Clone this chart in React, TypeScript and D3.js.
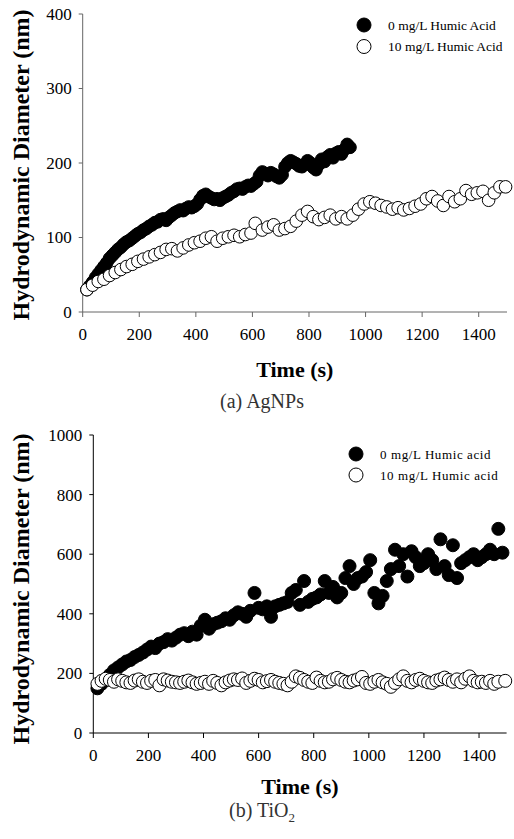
import React from "react";
import * as d3 from "d3";

// ---------- Data ----------
const xTicks = [0, 200, 400, 600, 800, 1000, 1200, 1400];
const yTicksA = [0, 100, 200, 300, 400];
const yTicksB = [0, 200, 400, 600, 800, 1000];

const legendA = ["0 mg/L Humic Acid", "10 mg/L Humic Acid"];
const legendB = ["0 mg/L Humic acid", "10 mg/L Humic acid"];

// (a) AgNPs, 0 mg/L humic acid  [time s, diameter nm]
const agFilled: [number, number][] = [
  [15, 30], [25, 35], [35, 40], [45, 46], [55, 51], [65, 56], [75, 61], [85, 66], [95, 72], [105, 76],
  [115, 80], [125, 84], [135, 87], [145, 91], [155, 94], [165, 96], [175, 99], [185, 102], [195, 105], [205, 107],
  [215, 110], [225, 112], [235, 115], [245, 117], [255, 120], [265, 121], [275, 124], [285, 125], [295, 123], [305, 127],
  [315, 130], [325, 133], [335, 135], [345, 137], [355, 136], [365, 139], [375, 141], [385, 140], [395, 142], [405, 145],
  [415, 151], [425, 156], [435, 158], [445, 155], [455, 153], [465, 151], [475, 152], [485, 150], [495, 153], [505, 155],
  [515, 157], [525, 160], [535, 162], [545, 165], [555, 166], [565, 165], [575, 168], [585, 170], [595, 169], [605, 172],
  [615, 175], [625, 183], [635, 188], [645, 186], [655, 183], [665, 187], [675, 185], [685, 182], [695, 180], [705, 184],
  [715, 195], [725, 200], [735, 203], [745, 201], [755, 199], [765, 196], [775, 195], [785, 198], [795, 203], [805, 200],
  [815, 194], [825, 191], [835, 198], [845, 205], [855, 202], [865, 208], [875, 211], [885, 207], [895, 213], [905, 215],
  [915, 212], [925, 218], [935, 225], [945, 221],
];

// (a) AgNPs, 10 mg/L humic acid
const agOpen: [number, number][] = [
  [15, 30], [35, 36], [55, 41], [75, 44], [95, 49], [115, 53], [135, 57], [155, 61], [175, 64], [195, 68],
  [215, 71], [235, 74], [255, 77], [275, 80], [295, 84], [315, 85], [335, 82], [355, 86], [375, 90], [395, 93],
  [415, 95], [435, 99], [455, 101], [475, 95], [495, 99], [515, 101], [535, 103], [555, 101], [575, 104], [595, 106],
  [610, 119], [635, 110], [655, 114], [675, 117], [695, 110], [715, 112], [735, 115], [755, 122], [775, 130], [795, 135],
  [815, 128], [835, 124], [855, 127], [875, 130], [895, 125], [915, 128], [935, 125], [955, 130], [975, 138], [995, 145],
  [1015, 148], [1035, 146], [1055, 143], [1075, 141], [1095, 138], [1115, 140], [1135, 137], [1155, 139], [1175, 142], [1195, 145],
  [1215, 152], [1235, 155], [1255, 149], [1275, 143], [1295, 155], [1315, 148], [1335, 152], [1355, 163], [1375, 158], [1395, 160],
  [1415, 162], [1435, 150], [1455, 160], [1475, 168], [1495, 168],
];

// (b) TiO2, 0 mg/L humic acid
const tiFilled: [number, number][] = [
  [15, 150], [30, 165], [45, 180], [60, 195], [75, 210], [90, 220], [105, 230], [120, 240], [135, 245], [150, 255],
  [165, 262], [180, 270], [195, 280], [210, 290], [225, 285], [240, 300], [255, 305], [270, 315], [285, 310], [300, 320],
  [315, 330], [330, 335], [345, 325], [360, 340], [375, 330], [390, 360], [405, 380], [420, 350], [435, 365], [450, 370],
  [465, 375], [480, 385], [495, 380], [510, 395], [525, 405], [540, 400], [555, 390], [570, 410], [585, 470], [600, 420],
  [615, 415], [630, 425], [645, 390], [660, 425], [675, 430], [690, 435], [705, 440], [720, 470], [735, 480], [750, 430],
  [765, 510], [780, 440], [795, 450], [810, 455], [825, 465], [840, 510], [855, 470], [870, 490], [885, 455], [900, 470],
  [915, 520], [930, 560], [945, 500], [960, 520], [975, 525], [990, 540], [1005, 580], [1020, 470], [1035, 435], [1050, 460],
  [1065, 510], [1080, 550], [1095, 615], [1110, 560], [1125, 600], [1140, 525], [1155, 610], [1170, 590], [1185, 560], [1200, 570],
  [1215, 600], [1230, 580], [1245, 550], [1260, 650], [1275, 560], [1290, 530], [1305, 630], [1320, 520], [1335, 570], [1350, 580],
  [1365, 590], [1380, 600], [1395, 580], [1410, 590], [1425, 600], [1440, 615], [1455, 600], [1470, 685], [1485, 605],
];

// (b) TiO2, 10 mg/L humic acid
const tiOpen: [number, number][] = [
  [15, 165], [30, 175], [45, 182], [60, 178], [75, 172], [90, 180], [105, 175], [120, 170], [135, 168], [150, 176],
  [165, 180], [180, 172], [195, 168], [210, 175], [225, 178], [240, 160], [255, 180], [270, 176], [285, 172], [300, 170],
  [315, 168], [330, 172], [345, 176], [360, 170], [375, 165], [390, 168], [405, 172], [420, 165], [435, 175], [450, 168],
  [465, 160], [480, 170], [495, 176], [510, 180], [525, 178], [540, 183], [555, 168], [570, 175], [585, 182], [600, 178],
  [615, 170], [630, 174], [645, 178], [660, 172], [675, 168], [690, 165], [705, 160], [720, 172], [735, 190], [750, 185],
  [765, 178], [780, 172], [795, 168], [810, 186], [825, 175], [840, 170], [855, 172], [870, 180], [885, 185], [900, 178],
  [915, 172], [930, 170], [945, 176], [960, 180], [975, 188], [990, 168], [1005, 165], [1020, 172], [1035, 178], [1050, 170],
  [1065, 165], [1080, 155], [1095, 168], [1110, 180], [1125, 190], [1140, 175], [1155, 170], [1170, 178], [1185, 182], [1200, 175],
  [1215, 170], [1230, 168], [1245, 176], [1260, 180], [1275, 186], [1290, 178], [1305, 172], [1320, 180], [1335, 170], [1350, 182],
  [1365, 190], [1380, 175], [1395, 170], [1410, 172], [1425, 168], [1440, 175], [1455, 165], [1470, 172], [1495, 175],
];

// ---------- Chart ----------
type PanelProps = {
  xRange: [number, number];
  yRange: [number, number];
  yMax: number;
  yTicks: number[];
  filled: [number, number][];
  open: [number, number][];
  legend: string[];
  legendPos: [number, number];
  legendSpacing: number;
  legendLetterSpacing: number;
  legendFontSize: number;
  axisColor: string;
  r: number;
  caption: React.ReactNode;
  yTitleCenter: number;
  titleY: number;
  captionY: number;
};

const serif = "'Liberation Serif', 'Times New Roman', serif";

function Panel(p: PanelProps) {
  const x = d3.scaleLinear().domain([0, 1500]).range(p.xRange);
  const y = d3.scaleLinear().domain([0, p.yMax]).range(p.yRange);
  const [x0, x1] = p.xRange;
  const [yb, yt] = p.yRange;
  const cx = (x0 + x1) / 2;
  return (
    <g>
      {/* y axis title */}
      <text
        transform={`translate(29,${p.yTitleCenter}) rotate(-90)`}
        textAnchor="middle"
        fontFamily={serif}
        fontWeight="bold"
        fontSize={24}
        fill="#000"
      >
        Hydrodynamic Diameter (nm)
      </text>
      {/* axes */}
      <line x1={x0} x2={x0} y1={yb} y2={yt} stroke={p.axisColor} strokeWidth={1} />
      <line x1={x0} x2={x1} y1={yb} y2={yb} stroke={p.axisColor} strokeWidth={1} />
      {p.yTicks.map((t) => (
        <g key={"y" + t}>
          <line x1={x0 - 4} x2={x0} y1={y(t)} y2={y(t)} stroke={p.axisColor} />
          <text x={x0 - 11} y={y(t)} dy="0.35em" textAnchor="end" fontFamily={serif} fontSize={17}>
            {t}
          </text>
        </g>
      ))}
      {xTicks.map((t) => (
        <g key={"x" + t}>
          <line x1={x(t)} x2={x(t)} y1={yb} y2={yb + 5} stroke={p.axisColor} />
          <text x={x(t)} y={yb + 22} dy="0.35em" textAnchor="middle" fontFamily={serif} fontSize={17}>
            {t}
          </text>
        </g>
      ))}
      {/* data */}
      {p.filled.map(([t, v], i) => (
        <circle key={"f" + i} cx={x(t)} cy={y(v)} r={p.r} fill="#000" stroke="#000" strokeWidth={1} />
      ))}
      {p.open.map(([t, v], i) => (
        <circle key={"o" + i} cx={x(t)} cy={y(v)} r={p.r} fill="#fff" stroke="#000" strokeWidth={1} />
      ))}
      {/* legend */}
      {p.legend.map((s, i) => (
        <g key={"l" + i}>
          <circle
            cx={p.legendPos[0]}
            cy={p.legendPos[1] + i * p.legendSpacing}
            r={7}
            fill={i === 0 ? "#000" : "#fff"}
            stroke="#000"
            strokeWidth={1}
          />
          <text
            x={p.legendPos[0] + 24}
            y={p.legendPos[1] + i * p.legendSpacing}
            dy="0.35em"
            fontFamily={serif}
            fontSize={p.legendFontSize}
            letterSpacing={p.legendLetterSpacing}
          >
            {s}
          </text>
        </g>
      ))}
      {/* x title */}
      <text x={cx} y={p.titleY} dy="0.35em" textAnchor="middle" fontFamily={serif} fontWeight="bold" fontSize={22}>
        Time (s)
      </text>
      <text x={262} y={p.captionY} dy="0.35em" textAnchor="middle" fontFamily={serif} fontSize={20} fill="#333">
        {p.caption}
      </text>
    </g>
  );
}

export default function App() {
  return (
    <svg
      width={514}
      height={839}
      style={{ position: "absolute", left: 0, top: 0, background: "#fff" }}
    >
      <rect width={514} height={839} fill="#fff" />
      <Panel
        xRange={[82.7, 507]}
        yRange={[312, 14]}
        yMax={400}
        yTicks={yTicksA}
        filled={agFilled}
        open={agOpen}
        legend={legendA}
        legendPos={[364, 25]}
        legendSpacing={21.5}
        legendLetterSpacing={0}
        legendFontSize={13.5}
        axisColor="#666"
        r={6.3}
        caption="(a) AgNPs"
        yTitleCenter={165}
        titleY={369}
        captionY={401}
      />
      <Panel
        xRange={[93.3, 506.6]}
        yRange={[733, 435]}
        yMax={1000}
        yTicks={yTicksB}
        filled={tiFilled}
        open={tiOpen}
        legend={legendB}
        legendPos={[356, 454]}
        legendSpacing={21}
        legendLetterSpacing={0.6}
        legendFontSize={13}
        axisColor="#000"
        r={6.5}
        caption={
          <>
            (b) TiO<tspan dy="5" fontSize={13}>2</tspan>
          </>
        }
        yTitleCenter={589}
        titleY={786}
        captionY={810}
      />
    </svg>
  );
}
